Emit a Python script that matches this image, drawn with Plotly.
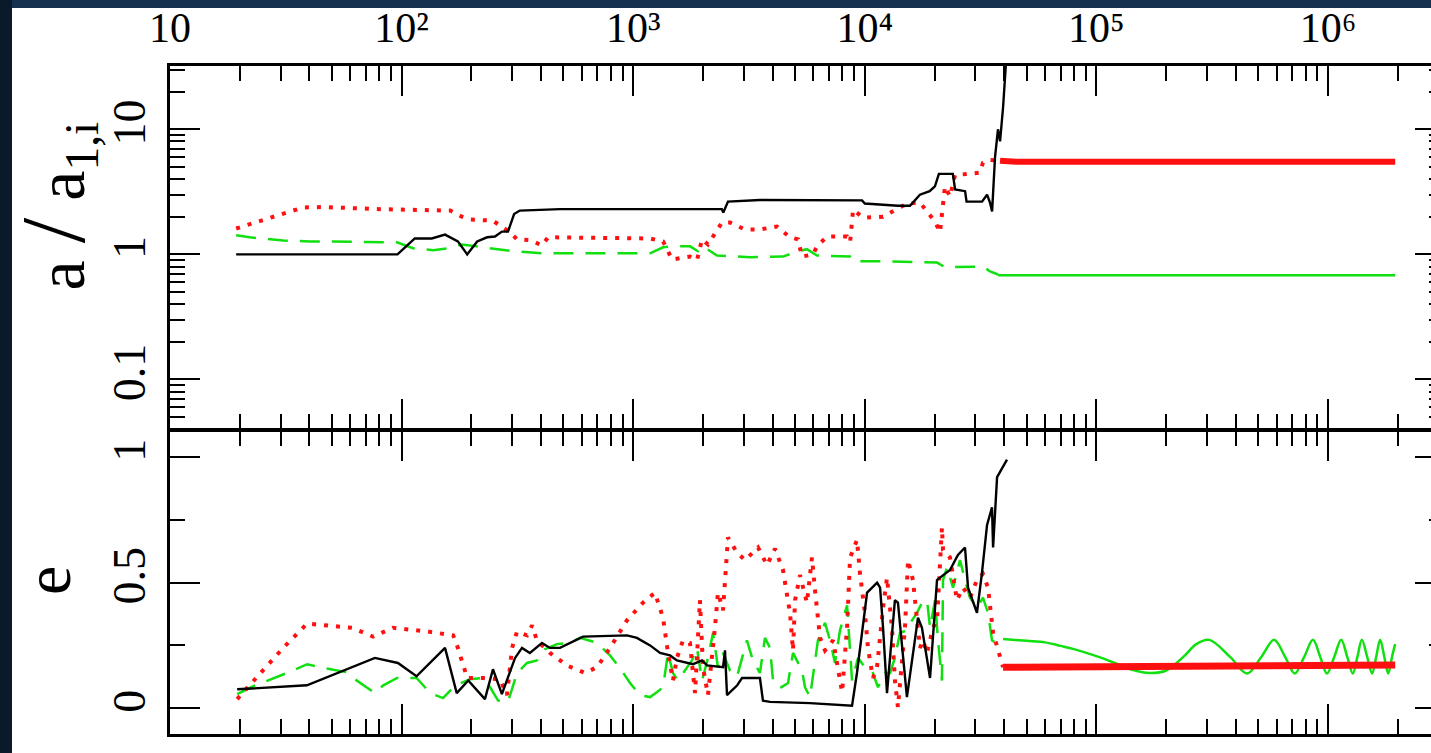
import plotly.graph_objects as go

# ---------------- data ----------------
# top panel: a / a_1,i  versus time
t_black_a = [19.3, 96, 114, 135, 154, 175, 192, 212, 234, 253, 271, 288, 306, 324, 483, 1175, 2413, 2450,
             2566, 3525, 9730, 10000, 13900, 15660, 17300, 19060, 20080, 20890, 23990, 24540, 27100, 27500,
             32070, 33720, 34700, 35450, 36500, 37580, 38370, 39540, 40740]
a_black = [1.0, 1.0, 1.34, 1.34, 1.44, 1.27, 1.0, 1.27, 1.37, 1.39, 1.52, 1.52, 2.1, 2.24, 2.3, 2.3, 2.3, 2.16,
           2.64, 2.72, 2.7, 2.55, 2.45, 2.45, 3.0, 3.2, 3.5, 4.4, 4.4, 3.3, 3.2, 2.64,
           2.64, 3.0, 2.6, 2.2, 6, 10, 8, 15, 35]

t_red_a = [19.3, 27, 37.5, 45.8, 80.7, 162, 182, 197, 248, 294, 315, 358, 404, 429, 719, 1183, 1346, 1472,
           1760, 1886, 1983, 2104, 2417, 2618, 3040, 3525, 4176, 4752, 5148, 5355, 5975, 6220, 6870, 8380,
           8640, 8900, 9820, 11990, 15210, 17300, 18560, 20100, 21120, 22190, 23330, 24510, 31410, 32360,
           34040, 38370]
a_red = [1.61, 1.95, 2.37, 2.39, 2.3, 2.24, 2.0, 1.9, 1.86, 1.5, 1.32, 1.30, 1.18, 1.37, 1.35, 1.34, 1.27, 0.91,
         0.96, 0.9, 1.32, 1.2, 1.8, 1.8, 1.58, 1.58, 1.67, 1.37, 1.32, 0.96, 1.0, 1.16, 1.39, 1.39,
         1.25, 2.28, 1.97, 2.0, 2.55, 2.6, 2.2, 1.83, 1.5, 3.5, 2.9, 4.3, 4.5, 5.4,
         5.7, 5.6]
t_red_a_late = [38370, 45000, 100000, 1950000]
a_red_late = [5.6, 5.5, 5.5, 5.5]

t_green_a = [19.3, 22.1, 30.8, 40.2, 95.5, 112, 137, 159, 182, 225, 303, 408, 1183, 1346, 1472, 1760, 1905,
             2000, 2300, 3193, 4433, 5148, 5625, 6220, 8640, 8900, 11990, 20500, 22190, 32360, 34740, 37580]
a_green = [1.42, 1.37, 1.29, 1.27, 1.25, 1.12, 1.08, 1.12, 1.2, 1.14, 1.06, 1.02, 1.02, 1.14, 1.16, 1.16, 1.06,
           1.16, 0.98, 0.95, 0.96, 1.06, 1.1, 0.98, 0.96, 0.88, 0.88, 0.86, 0.79, 0.8, 0.73, 0.69]
t_green_a_late = [37580, 1950000]
a_green_late = [0.68, 0.68]

# bottom panel: eccentricity versus time
t_black_e = [19.5, 39, 76.7, 96.4, 116, 154, 173, 194, 229, 248, 271, 309, 331, 358, 404, 437, 483, 534, 607,
             940, 1038, 1183, 1306, 1442, 1545, 1811, 1982, 2083, 2443, 2491, 2541, 2806, 2950, 3525, 3633,
             3897, 5800, 8808, 9250, 10230, 11300, 11640, 11990, 12470, 13490, 13900, 15200, 16970, 17650,
             19130, 20500, 21120, 23330, 25240, 27080, 27910, 30500, 32060, 33720, 35420, 35800, 37250, 41110]
e_black = [0.075, 0.091, 0.2, 0.18, 0.127, 0.24, 0.06, 0.11, 0.036, 0.155, 0.056, 0.2, 0.24, 0.22, 0.26, 0.24,
           0.24, 0.26, 0.285, 0.29, 0.28, 0.25, 0.22, 0.21, 0.19, 0.175, 0.19, 0.17, 0.163, 0.23, 0.052, 0.09,
           0.12, 0.12, 0.03, 0.025, 0.02, 0.01, 0.14, 0.46, 0.5, 0.48, 0.32, 0.06, 0.43, 0.42, 0.044, 0.36,
           0.32, 0.12, 0.51, 0.52, 0.55, 0.61, 0.64, 0.48, 0.38, 0.54, 0.73, 0.8, 0.64, 0.92, 0.99]

t_red_e = [19.5, 24.5, 30.8, 39.1, 49.1, 61.1, 75.3, 91.9, 130, 167, 175, 192, 225, 266, 285, 300, 315, 348,
           366, 384, 437, 518, 619, 698, 794, 940, 1102, 1241, 1345, 1413, 1485, 1545, 1640, 1758, 1849, 1942,
           2001, 2103, 2254, 2322, 2442, 2566, 2806, 3040, 3459, 3783, 4095, 4433, 4752, 4897, 4999, 5250,
           5626, 5914, 6094, 6408, 6733, 7295, 7819, 7980, 8382, 8637, 9253, 9535, 10010, 10320, 10840, 11290,
           11990, 12470, 13100, 13490, 13900, 14910, 15370, 16140, 17300, 17830, 18560, 19690, 20500, 21530,
           21760, 23330, 25000, 26540, 28440, 30490, 32360, 34040, 35800, 39540]
e_red = [0.036, 0.14, 0.24, 0.337, 0.33, 0.32, 0.285, 0.32, 0.305, 0.29, 0.24, 0.12, 0.12, 0.115, 0.052, 0.24,
         0.305, 0.29, 0.33, 0.27, 0.22, 0.17, 0.14, 0.163, 0.24, 0.35, 0.42, 0.46, 0.36, 0.22, 0.11, 0.2, 0.27,
         0.26, 0.06, 0.43, 0.163, 0.052, 0.32, 0.46, 0.39, 0.68, 0.62, 0.59, 0.64, 0.57, 0.635, 0.55, 0.38,
         0.23, 0.43, 0.53, 0.42, 0.6, 0.47, 0.28, 0.23, 0.27, 0.11, 0.064, 0.32, 0.6, 0.67, 0.535, 0.38, 0.24,
         0.12, 0.163, 0.4, 0.52, 0.32, 0.11, 0.004, 0.32, 0.59, 0.51, 0.24, 0.27, 0.22, 0.32, 0.35, 0.72, 0.63,
         0.6, 0.43, 0.48, 0.44, 0.51, 0.535, 0.48, 0.3, 0.163]
t_red_e_late = [39540, 100000, 1000000, 1950000]
e_red_late = [0.163, 0.165, 0.172, 0.172]

t_green_e = [19.5, 22.8, 32, 39.1, 44.5, 58.1, 62.9, 76.7, 83.1, 95.6, 116, 133, 151, 170, 197, 225, 241, 261,
             288, 315, 348, 384, 416, 469, 534, 589, 698, 794, 877, 969, 1070, 1183, 1268, 1345, 1413, 1485,
             1560, 1673, 1793, 1885, 1982, 2103, 2212, 2322, 2442, 2617, 2806, 3097, 3289, 3525, 3706, 3897,
             4015, 4304, 4661, 4897, 5355, 5520, 5800, 6277, 6733, 7075, 7435, 7814, 8382, 8808, 9355, 10010,
             10750, 11400, 12220, 12850, 13490, 14190, 15210, 15990, 16800, 17660, 18560, 19130, 20100, 20710,
             21530, 21760, 22640, 24040, 25760, 27080, 28440, 30490, 32360, 34040, 35420, 37250, 39540]
e_green = [0.056, 0.087, 0.14, 0.175, 0.163, 0.143, 0.115, 0.06, 0.09, 0.12, 0.12, 0.06, 0.04, 0.09, 0.115,
           0.12, 0.083, 0.03, 0.025, 0.14, 0.18, 0.19, 0.235, 0.255, 0.26, 0.28, 0.26, 0.21, 0.16, 0.1, 0.052,
           0.044, 0.064, 0.083, 0.22, 0.14, 0.11, 0.15, 0.19, 0.24, 0.11, 0.2, 0.3, 0.163, 0.22, 0.15, 0.125,
           0.27, 0.19, 0.14, 0.28, 0.24, 0.11, 0.08, 0.1, 0.22, 0.15, 0.083, 0.044, 0.27, 0.34, 0.27, 0.18,
           0.31, 0.41, 0.11, 0.2, 0.163, 0.15, 0.083, 0.14, 0.14, 0.2, 0.3, 0.31, 0.35, 0.38, 0.42, 0.43, 0.32,
           0.43, 0.27, 0.11, 0.51, 0.56, 0.48, 0.59, 0.51, 0.44, 0.4, 0.44, 0.38, 0.27, 0.26, 0.275]
t_green_e_late = [39540, 50000, 60000, 70000, 80000, 100000, 120000, 140000, 170000, 200000, 238000, 270000,
                  307000, 377000, 447000, 516000, 585000, 652000, 719000, 790000, 861000, 925000, 990000,
                  1065000, 1140000, 1210000, 1280000, 1340000, 1400000, 1475000, 1550000, 1615000, 1680000,
                  1750000, 1820000, 1890000, 1950000]
e_green_late = [0.275, 0.268, 0.262, 0.248, 0.235, 0.207, 0.18, 0.155, 0.14, 0.15, 0.205, 0.255, 0.272, 0.205,
                0.138, 0.205, 0.272, 0.205, 0.138, 0.205, 0.272, 0.205, 0.138, 0.205, 0.272, 0.205, 0.138,
                0.205, 0.272, 0.205, 0.138, 0.205, 0.272, 0.205, 0.138, 0.205, 0.255]

x_tick_vals = [10, 100, 1000, 10000, 100000, 1000000]
x_tick_text = ["10", "10²", "10³", "10⁴", "10⁵", "10⁶"]
a_tick_vals = [0.1, 1, 10]
a_tick_text = ["0.1", "1", "10"]
e_tick_vals = [0, 0.5, 1]
e_tick_text = ["0", "0.5", "1"]

# ---------------- styling ----------------
FONT = "Liberation Serif"
BLACK = "#000000"
RED = "#ff1010"
GREEN = "#10e010"
x_minor_vals = [m * 10 ** k for k in range(1, 7) for m in range(2, 10)]
a_minor_vals = [m * 10.0 ** k for k in range(-2, 2) for m in range(2, 10)]

fig = go.Figure()

def add(x, y, color, width, dash, xa, ya, shape="linear"):
    fig.add_trace(go.Scatter(x=x, y=y, mode="lines", xaxis=xa, yaxis=ya, showlegend=False,
                             hoverinfo="skip",
                             line=dict(color=color, width=width, dash=dash, shape=shape)))

# top panel
add(t_green_a, a_green, GREEN, 2.5, "20px,12px", "x", "y")
add(t_green_a_late, a_green_late, GREEN, 2.5, "solid", "x", "y")
add(t_red_a, a_red, RED, 4, "4px,8px", "x", "y")
add(t_red_a_late, a_red_late, RED, 6, "solid", "x", "y")
add(t_black_a, a_black, BLACK, 2.4, "solid", "x", "y")
# bottom panel
add(t_green_e, e_green, GREEN, 2.5, "20px,12px", "x2", "y2")
add(t_green_e_late, e_green_late, GREEN, 2.5, "solid", "x2", "y2", shape="spline")
add(t_red_e, e_red, RED, 4, "4px,8px", "x2", "y2")
add(t_red_e_late, e_red_late, RED, 7, "solid", "x2", "y2")
add(t_black_e, e_black, BLACK, 2.4, "solid", "x2", "y2")

XR = [1, 6.4447]
LW = 2.5
split = 0.45509
half_gap = (LW / 2) / 668
common_x = dict(type="log", range=XR, showgrid=False, zeroline=False, showline=True, linecolor=BLACK,
                linewidth=LW, ticks="inside", ticklen=30, tickwidth=2, tickcolor=BLACK, mirror="ticks",
                tickmode="array", tickvals=x_tick_vals, automargin=False,
                minor=dict(ticks="inside", ticklen=15, tickwidth=2, tickcolor=BLACK, tickmode="array",
                           tickvals=x_minor_vals, showgrid=False))
common_y = dict(showgrid=False, zeroline=False, showline=True, linecolor=BLACK, linewidth=LW,
                ticks="inside", ticklen=30, tickwidth=2, tickcolor=BLACK, tickangle=-90, automargin=False,
                tickfont=dict(family=FONT, size=46, color=BLACK), ticklabelstandoff=4)

fig.update_layout(
    width=1431, height=753,
    margin=dict(l=170, r=0, t=66, b=19, pad=0, autoexpand=False),
    paper_bgcolor="#0b1a2b", plot_bgcolor="white",
    xaxis=dict(common_x, anchor="y", side="top", ticktext=x_tick_text, showticklabels=True,
               tickfont=dict(family=FONT, size=42, color=BLACK), ticklabelstandoff=4),
    xaxis2=dict(common_x, anchor="y2", side="bottom", matches="x", showticklabels=False),
    yaxis=dict(common_y, domain=[split + half_gap, 1], type="log", range=[-1.394, 1.506], anchor="x",
               tickmode="array", tickvals=a_tick_vals, ticktext=a_tick_text,
               minor=dict(ticks="inside", ticklen=15, tickwidth=2, tickcolor=BLACK, tickmode="array",
                          tickvals=a_minor_vals, showgrid=False)),
    yaxis2=dict(common_y, domain=[0, split - half_gap], range=[-0.103, 1.103], anchor="x2",
                tickmode="array", tickvals=e_tick_vals, ticktext=e_tick_text,
                minor=dict(ticks="inside", ticklen=15, tickwidth=2, tickcolor=BLACK, dtick=0.25,
                           showgrid=False)),
    yaxis3=dict(overlaying="y", side="right", anchor="x", type="log", range=[-1.394, 1.506],
                showgrid=False, zeroline=False, showline=False, ticks="inside", ticklen=16, tickwidth=2,
                tickcolor=BLACK, showticklabels=False, tickmode="array", tickvals=a_tick_vals,
                automargin=False,
                minor=dict(ticks="inside", ticklen=2, tickwidth=2, tickcolor=BLACK, tickmode="array",
                           tickvals=a_minor_vals)),
    yaxis4=dict(overlaying="y2", side="right", anchor="x2", range=[-0.103, 1.103],
                showgrid=False, zeroline=False, showline=False, ticks="inside", ticklen=16, tickwidth=2,
                tickcolor=BLACK, showticklabels=False, tickmode="array", tickvals=e_tick_vals,
                automargin=False,
                minor=dict(ticks="inside", ticklen=2, tickwidth=2, tickcolor=BLACK, dtick=0.25)),
    shapes=[
        dict(type="rect", xref="paper", yref="paper", x0=-0.1253, x1=1.02, y0=-0.05, y1=1.0868,
             fillcolor="white", line=dict(width=0), layer="below"),
        dict(type="rect", xref="paper", yref="paper", x0=-0.1253, x1=1.02, y0=1.0868, y1=1.2,
             fillcolor="#15314f", line=dict(width=0), layer="below"),
    ],
    annotations=[
        dict(text="a <span style='font-size:92px'>/</span> a<sub>1,i</sub>", xref="paper", yref="paper",
             x=-0.091, y=0.79, textangle=-90,
             showarrow=False, font=dict(family=FONT, size=68, color=BLACK), xanchor="center",
             yanchor="middle"),
        dict(text="e", xref="paper", yref="paper", x=-0.097, y=0.23, textangle=-90,
             showarrow=False, font=dict(family=FONT, size=66, color=BLACK), xanchor="center",
             yanchor="middle"),
    ],
)
# overlay axes for right-side ticks need a subplot: attach empty traces
fig.add_trace(go.Scatter(x=[], y=[], xaxis="x", yaxis="y3", showlegend=False))
fig.add_trace(go.Scatter(x=[], y=[], xaxis="x2", yaxis="y4", showlegend=False))

fig.write_html("out.html")
